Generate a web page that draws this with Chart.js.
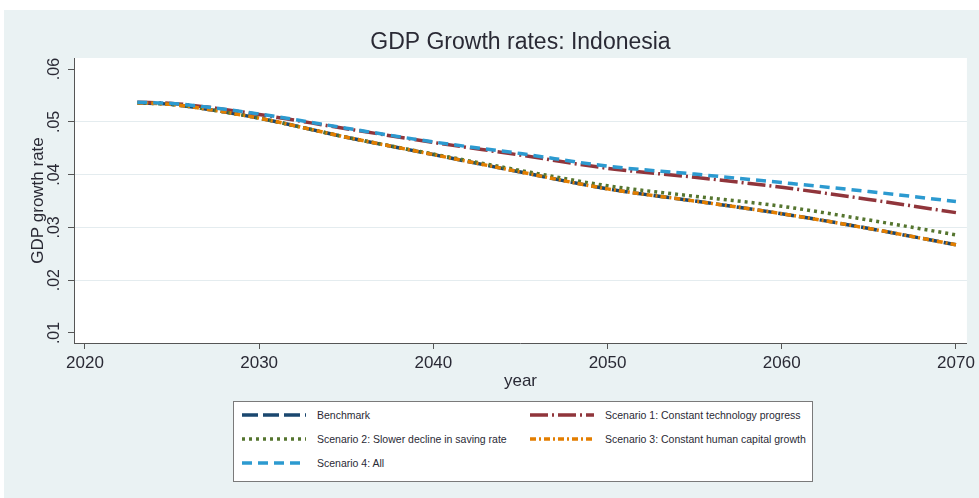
<!DOCTYPE html>
<html>
<head>
<meta charset="utf-8">
<script src="https://cdn.jsdelivr.net/npm/chart.js@4.4.1/dist/chart.umd.min.js"></script>
<style>
  html, body { margin: 0; padding: 0; background: #ffffff; }
  #wrap { position: relative; width: 979px; height: 498px; overflow: hidden; }
  #bg { position: absolute; left: 4px; top: 10px; right: 0; bottom: 0; background: #eaf2f3; }
  #chart { position: absolute; left: 0; top: 0; }
  #legend {
    position: absolute; left: 233px; top: 401px; width: 580px; height: 81px;
    box-sizing: border-box; background: #ffffff; border: 1px solid #7a7a7a;
    font-family: "Liberation Sans", Arial, sans-serif; font-size: 10.5px; color: #2a2a35;
  }
  .item { position: absolute; height: 14px; }
  .item svg { position: absolute; left: 0; top: 0; }
  .item span { position: absolute; top: 0; line-height: 14px; white-space: nowrap; }
</style>
</head>
<body>
<div id="wrap">
  <div id="bg"></div>
  <canvas id="chart" width="979" height="498"></canvas>
  <div id="legend"></div>
</div>
<script>
// values
const years = [2023, 2025, 2027, 2030, 2035, 2040, 2045, 2050, 2055, 2060, 2065, 2070];
const benchmark = [0.0536, 0.0533, 0.0524, 0.0507, 0.0471, 0.0438, 0.0405, 0.0373, 0.0350, 0.0326, 0.0298, 0.0267];
const scenario1 = [0.0537, 0.0535, 0.0528, 0.0514, 0.0487, 0.0461, 0.0437, 0.0412, 0.0395, 0.0376, 0.0353, 0.0328];
const scenario2 = [0.0536, 0.0533, 0.0524, 0.0507, 0.0471, 0.0439, 0.0408, 0.0379, 0.0359, 0.0340, 0.0314, 0.0286];
const scenario3 = [0.0536, 0.0533, 0.0524, 0.0507, 0.0471, 0.0438, 0.0405, 0.0373, 0.0350, 0.0326, 0.0298, 0.0267];
const scenario4 = [0.0537, 0.0535, 0.0528, 0.0515, 0.0488, 0.0462, 0.0440, 0.0416, 0.0401, 0.0385, 0.0368, 0.0349];

const xTicks = [2020, 2030, 2040, 2050, 2060, 2070];
const yTicks = [0.01, 0.02, 0.03, 0.04, 0.05, 0.06];
const yTickLabels = ['.01', '.02', '.03', '.04', '.05', '.06'];

const seriesNames = [
  'Benchmark',
  'Scenario 1: Constant technology progress',
  'Scenario 2: Slower decline in saving rate',
  'Scenario 3: Constant human capital growth',
  'Scenario 4: All'
];

const FONT = '"Liberation Sans", Arial, sans-serif';
const AXIS = '#555555';
const TEXT = '#2a2a35';

function pts(vals) {
  return years.map((x, i) => ({ x: x, y: vals[i] }));
}

function line(label, vals, color, dash, order) {
  return {
    label: label,
    data: pts(vals),
    borderColor: color,
    backgroundColor: color,
    borderWidth: 3.5,
    borderDash: dash,
    borderCapStyle: 'butt',
    pointRadius: 0,
    fill: false,
    cubicInterpolationMode: 'monotone',
    order: order
  };
}

const datasets = [
  line(seriesNames[0], benchmark, '#1a476f', [16, 5], 5),
  line(seriesNames[1], scenario1, '#90353b', [18, 4, 2, 4], 4),
  line(seriesNames[2], scenario2, '#55752f', [3, 4], 3),
  line(seriesNames[3], scenario3, '#e37e00', [6, 3, 2, 3], 2),
  line(seriesNames[4], scenario4, '#2c9ad0', [10, 6], 1)
];

// white plot region + rotated y tick labels
const plotDecor = {
  id: 'plotDecor',
  beforeDraw(chart) {
    const a = chart.chartArea;
    const ctx = chart.ctx;
    ctx.save();
    ctx.fillStyle = '#ffffff';
    ctx.fillRect(a.left, a.top, a.right - a.left, a.bottom - a.top);
    ctx.restore();
  },
  afterDraw(chart) {
    const ctx = chart.ctx;
    const ys = chart.scales.y;
    ctx.save();
    ctx.fillStyle = TEXT;
    ctx.font = '16px ' + FONT;
    ctx.textAlign = 'center';
    ctx.textBaseline = 'middle';
    yTicks.forEach((v, i) => {
      const py = ys.getPixelForValue(v);
      ctx.save();
      ctx.translate(55, py);
      ctx.rotate(-Math.PI / 2);
      ctx.fillText(yTickLabels[i], 0, 0);
      ctx.restore();
    });
    ctx.restore();
  }
};

new Chart(document.getElementById('chart'), {
  type: 'line',
  data: { datasets: datasets },
  plugins: [plotDecor],
  options: {
    responsive: false,
    animation: false,
    events: [],
    layout: { padding: { left: 0, right: 6, top: 0, bottom: 98 } },
    plugins: {
      legend: { display: false },
      tooltip: { enabled: false },
      title: {
        display: true,
        text: 'GDP Growth rates: Indonesia',
        fullSize: false,
        color: TEXT,
        font: { family: FONT, size: 23, weight: 'normal', lineHeight: 1.2 },
        padding: { top: 29, bottom: 1.4 }
      }
    },
    scales: {
      x: {
        type: 'linear',
        min: 2019.37,
        max: 2070.63,
        afterBuildTicks(scale) { scale.ticks = xTicks.map(v => ({ value: v })); },
        afterFit(scale) { scale.height = 57; },
        border: { display: true, color: AXIS, width: 1 },
        grid: { drawOnChartArea: false, drawTicks: true, tickLength: 6, tickColor: AXIS },
        ticks: {
          color: TEXT,
          padding: 4,
          maxRotation: 0,
          font: { family: FONT, size: 17 },
          callback: v => String(v)
        },
        title: {
          display: true,
          text: 'year',
          color: TEXT,
          font: { family: FONT, size: 17, lineHeight: 1.2 },
          padding: { top: 0, bottom: 8 }
        }
      },
      y: {
        type: 'linear',
        min: 0.0081,
        max: 0.0621,
        afterBuildTicks(scale) { scale.ticks = yTicks.map(v => ({ value: v })); },
        afterFit(scale) { scale.width = 74; },
        border: { display: true, color: AXIS, width: 1 },
        grid: {
          drawTicks: true,
          tickLength: 6,
          tickColor: AXIS,
          color: ctx => (ctx.tick && (ctx.tick.value < 0.015 || ctx.tick.value > 0.055)) ? 'rgba(0,0,0,0)' : '#e4ecef',
          lineWidth: 1
        },
        ticks: { display: false },
        title: {
          display: true,
          text: 'GDP growth rate',
          color: TEXT,
          font: { family: FONT, size: 17, lineHeight: 1.2 },
          padding: { top: 28, bottom: 0 }
        }
      }
    }
  }
});

// legend box below the chart, built from the datasets
const legendPos = [[8, 6], [296, 6], [8, 30], [296, 30], [8, 54]];
const legendEl = document.getElementById('legend');
datasets.forEach((ds, i) => {
  const item = document.createElement('div');
  item.className = 'item';
  item.style.left = legendPos[i][0] + 'px';
  item.style.top = legendPos[i][1] + 'px';
  const svg = '<svg width="64" height="14"><line x1="0" y1="7" x2="64" y2="7" stroke="' + ds.borderColor +
    '" stroke-width="3.5" stroke-dasharray="' + ds.borderDash.join(',') + '"/></svg>';
  item.innerHTML = svg + '<span style="left:75px">' + ds.label + '</span>';
  legendEl.appendChild(item);
});
</script>
</body>
</html>
